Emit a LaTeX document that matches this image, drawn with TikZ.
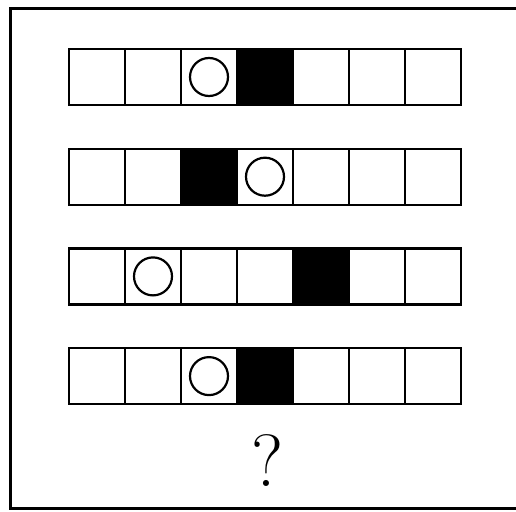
\documentclass[tikz,border=0pt]{standalone}
\begin{document}
\begin{tikzpicture}[x=1pt,y=-1pt,
  cell/.style={draw=black,line width=2.4pt,minimum size=56pt,inner sep=0pt,outer sep=0pt,fill=white},
  blk/.style={cell,fill=black},
  ring/.style={draw=black,line width=2.2pt,circle,minimum size=38pt,inner sep=0pt}]
\useasboundingbox (0,0) rectangle (516,511);
\draw[line width=3pt] (520,8.5) -- (10,8.5) -- (10,508) -- (520,508);
% rows: r, circle idx, black idx
\foreach \r/\c/\b in {0/2/3,1/3/2,2/1/4,3/2/3}{
  \foreach \i in {0,...,6}{
    \pgfmathsetmacro{\xx}{69+56*\i+28}
    \pgfmathsetmacro{\yy}{49+99.7*\r+28}
    \ifnum\i=\b
      \node[blk] (c\r\i) at (\xx,\yy) {};
    \else
      \node[cell] (c\r\i) at (\xx,\yy) {};
    \fi
  }
  \node[ring] (o\r) at (c\r\c) {};
}
\node[anchor=base,inner sep=0pt,font=\fontsize{74}{74}\selectfont] (q) at (268,486) {?};
\end{tikzpicture}
\end{document}
